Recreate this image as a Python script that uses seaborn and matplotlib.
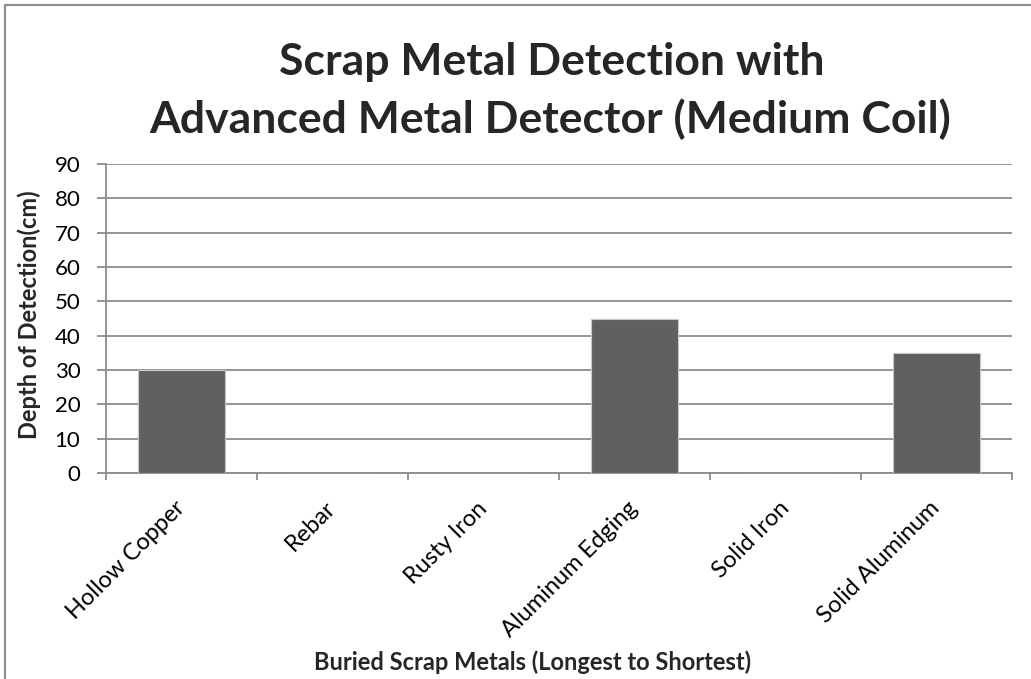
import matplotlib
matplotlib.use("Agg")
import matplotlib.pyplot as plt
from matplotlib.patches import Rectangle
from matplotlib.transforms import ScaledTranslation
import seaborn as sns
import pandas as pd

# Detection depth per buried scrap item
metals = ["Hollow Copper", "Rebar", "Rusty Iron", "Aluminum Edging", "Solid Iron", "Solid Aluminum"]
depth_cm = [30, 0, 0, 45, 0, 35]
y_ticks = [0, 10, 20, 30, 40, 50, 60, 70, 80, 90]

title_lines = ["Scrap Metal Detection with", "Advanced Metal Detector (Medium Coil)"]
x_title = "Buried Scrap Metals (Longest to Shortest)"
y_title = "Depth of Detection(cm)"

sns.set_theme(style="white")
plt.rcParams["font.family"] = ["Lato", "DejaVu Sans"]

W, H = 1031, 679
fig = plt.figure(figsize=(W / 100, H / 100), dpi=100)
ax = fig.add_axes([106 / W, 1 - 473 / H, (1012 - 106) / W, (473 - 164) / H])

df = pd.DataFrame({"metal": metals, "depth": depth_cm})
sns.barplot(data=df, x="metal", y="depth", ax=ax, color="#606060",
            saturation=1, width=0.57, edgecolor="#c8c8c8", linewidth=0.8, zorder=3)

grid_c = "#8c8c8c"
ax.set_ylim(0, 90)
ax.set_xlim(-0.5, len(metals) - 0.5)
ax.set_yticks(y_ticks)
ax.set_yticklabels([str(v) for v in y_ticks], fontsize=16, color="black")
ax.yaxis.grid(True, color=grid_c, linewidth=1.3, zorder=0)
ax.set_axisbelow(True)

# category boundaries carry the tick marks, labels sit at the centres
ax.set_xticks([i - 0.5 for i in range(len(metals) + 1)], minor=False)
ax.set_xticklabels([])
ax.set_xticks(range(len(metals)), minor=True)
labels = ax.set_xticklabels(metals, minor=True, rotation=45, ha="right", va="center",
                            rotation_mode="anchor", fontsize=17, color="black")
shift = ScaledTranslation(10 / 100, 0, fig.dpi_scale_trans)
for lab in labels:
    lab.set_transform(lab.get_transform() + shift)
ax.tick_params(axis="x", which="major", direction="out", length=5, width=1.3, color=grid_c, bottom=True)
ax.tick_params(axis="x", which="minor", length=0, pad=23)
ax.tick_params(axis="y", direction="out", length=6.5, width=1.3, color=grid_c, left=True, pad=12)

for side in ["top", "right"]:
    ax.spines[side].set_visible(False)
for side in ["left", "bottom"]:
    ax.spines[side].set_color(grid_c)
    ax.spines[side].set_linewidth(1.3)
ax.set_xlabel("")
ax.set_ylabel("")

fig.text(552 / W, 1 - 75 / H, title_lines[0], ha="center", va="baseline", fontsize=32,
         fontweight="bold")
fig.text(550 / W, 1 - 133 / H, title_lines[1], ha="center", va="baseline", fontsize=32,
         fontweight="bold")
fig.text(533 / W, 1 - 662 / H, x_title, ha="center", va="center", fontsize=17, fontweight="bold")
fig.text(29 / W, 1 - 315 / H, y_title, ha="center", va="center", rotation=90,
         fontsize=17, fontweight="bold")

# chart frame, running past the right and bottom edges
fig.patches.append(Rectangle((5 / W, -0.1), 1.2, 1 - 5 / H + 0.1, transform=fig.transFigure,
                             fill=False, edgecolor="#8c8c8c", linewidth=1.5))

fig.savefig("out.png", dpi=100)
